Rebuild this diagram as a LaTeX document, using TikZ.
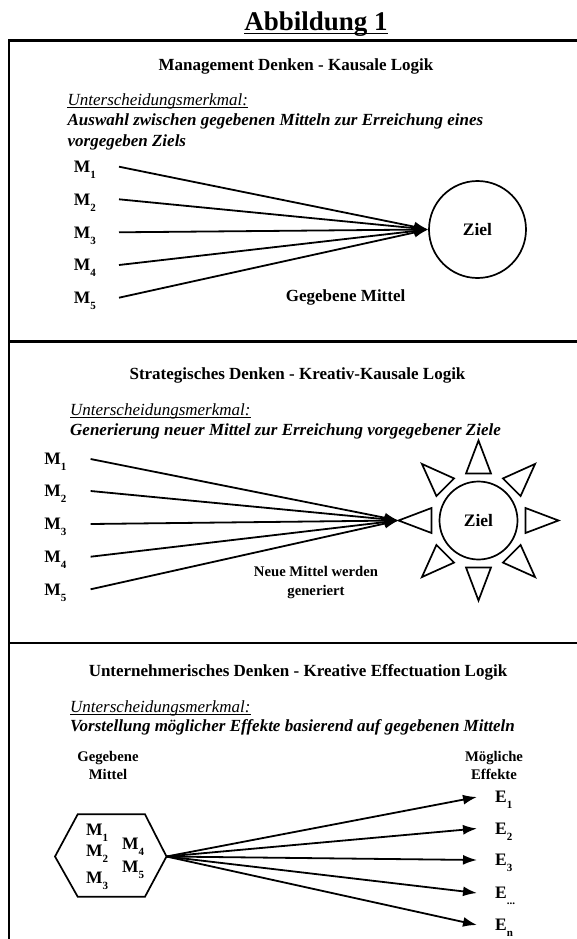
\documentclass[tikz,border=0pt]{standalone}
\usepackage{fontspec}
\setmainfont{Liberation Serif}
\usetikzlibrary{arrows.meta}
\newcommand\sbx[1]{\raisebox{-6pt}{\fontsize{11}{11}\selectfont #1}}
\newcommand\threedots{...}
\begin{document}
\begin{tikzpicture}[x=1pt,y=-1pt,
  frame/.style={line width=2.2pt},
  sepline/.style={line width=2.7pt},
  conn/.style={line width=1.8pt,-{Latex[length=14pt,width=10pt]}},
  shapeline/.style={line width=1.7pt},
  ttl/.style={font=\fontsize{27}{30}\selectfont\bfseries,anchor=base,inner sep=0},
  head/.style={font=\fontsize{17}{20}\selectfont\bfseries,anchor=base,inner sep=0},
  crit/.style={font=\fontsize{17}{20}\selectfont\itshape,anchor=base west,inner sep=0},
  desc/.style={font=\fontsize{17}{20}\selectfont\bfseries\itshape,anchor=base west,inner sep=0},
  lbl/.style={font=\fontsize{17}{20}\selectfont\bfseries,anchor=base,inner sep=0},
  small/.style={font=\fontsize{14.7}{18}\selectfont\bfseries,anchor=base,inner sep=0},
  mlab/.style={font=\fontsize{17.5}{20}\selectfont\bfseries,inner sep=0,anchor=west,text height=17.6pt,text depth=6pt},
  elab/.style={font=\fontsize{17.5}{20}\selectfont\bfseries,inner xsep=18pt,inner ysep=0,anchor=west,text height=17.6pt,text depth=6pt},
  goal/.style={circle,draw,shapeline,inner sep=0,font=\fontsize{17.5}{20}\selectfont\bfseries},
  uline/.style={line width=1.3pt}
]
\useasboundingbox (0,0) rectangle (577,939);
% frame
\draw[frame] (577,40.5) -- (9,40.5) -- (9,939);
\draw[sepline] (9,341.7) -- (577,341.7);
\draw[sepline] (9,643) -- (577,643);
% title
\node[ttl] (title) at (316,31) {Abbildung 1};
\draw[line width=1.6pt] ([yshift=-2.5pt]title.base west) -- ([yshift=-2.5pt]title.base east);

% ---------- section 1
\node[head] (h1) at (296,70.5) {Management Denken - Kausale Logik};
\node[crit] (c1) at (67.4,106) {Unterscheidungsmerkmal:};
\draw[uline] ([yshift=-1.8pt]c1.base west) -- ([yshift=-1.8pt]c1.base east);
\node[desc] (d1a) at (67.4,126) {Auswahl zwischen gegebenen Mitteln zur Erreichung eines};
\node[desc] (d1b) at (67.4,146.7) {vorgegeben Ziels};
\node[goal,minimum size=97pt] (z1) at (477.5,229.5) {Ziel};
\foreach \i/\y in {1/166.7,2/199.3,3/232.3,4/265,5/297.7}{
  \node[mlab,text width=45pt] (a\i) at (73.6,\y) {M\sbx{\i}};
  \draw[conn] (a\i.east) -- (z1.west);
}
\node[lbl] (g1) at (345.6,301.5) {Gegebene Mittel};

% ---------- section 2
\node[head] (h2) at (297.5,379.3) {Strategisches Denken - Kreativ-Kausale Logik};
\node[crit] (c2) at (70,415.7) {Unterscheidungsmerkmal:};
\draw[uline] ([yshift=-1.8pt]c2.base west) -- ([yshift=-1.8pt]c2.base east);
\node[desc] (d2) at (70,435) {Generierung neuer Mittel zur Erreichung vorgegebener Ziele};
\node[goal,minimum size=78pt] (z2) at (478.5,520.5) {Ziel};
\foreach \a in {0,45,...,315}{
  \draw[shapeline,shift={(z2.center)},rotate=\a] (47,-12.5) -- (80,0) -- (47,12.5) -- cycle;
}
\coordinate (ztip) at ([xshift=-80pt]z2.center);
\foreach \i/\y in {1/459,2/491,3/524,4/556.7,5/589.3}{
  \node[mlab,text width=46pt] (b\i) at (44.2,\y) {M\sbx{\i}};
  \draw[conn] (b\i.east) -- (ztip);
}
\node[small] (n1) at (316,576.7) {Neue Mittel werden};
\node[small] (n2) at (316,595) {generiert};

% ---------- section 3
\node[head] (h3) at (298,676) {Unternehmerisches Denken - Kreative Effectuation Logik};
\node[crit] (c3) at (70,712.7) {Unterscheidungsmerkmal:};
\draw[uline] ([yshift=-1.8pt]c3.base west) -- ([yshift=-1.8pt]c3.base east);
\node[desc] (d3) at (70,731.7) {Vorstellung möglicher Effekte basierend auf gegebenen Mitteln};
\node[small] (gm1) at (108,761.7) {Gegebene};
\node[small] (gm2) at (108,779.3) {Mittel};
\node[small] (me1) at (494,761.7) {Mögliche};
\node[small] (me2) at (494,779.3) {Effekte};
\draw[shapeline] (55,856.5) -- (77.7,814.3) -- (145,814.3) -- (166.5,856.5) -- (145,896.7) -- (77.7,896.7) -- cycle;
\coordinate (hx) at (166.5,856.5);
\node[mlab] (x1) at (86,829.5) {M\sbx{1}};
\node[mlab] (x2) at (86,850.5) {M\sbx{2}};
\node[mlab] (x3) at (86,877.7) {M\sbx{3}};
\node[mlab] (x4) at (122,844) {M\sbx{4}};
\node[mlab] (x5) at (122,866.7) {M\sbx{5}};
\foreach \i/\s/\y in {1/1/797,2/2/828.5,3/3/860,4/\threedots/893,5/n/925}{
  \node[elab] (e\i) at (477,\y) {E\sbx{\s}};
  \draw[conn] (hx) -- (e\i.west);
}
\end{tikzpicture}
\end{document}
